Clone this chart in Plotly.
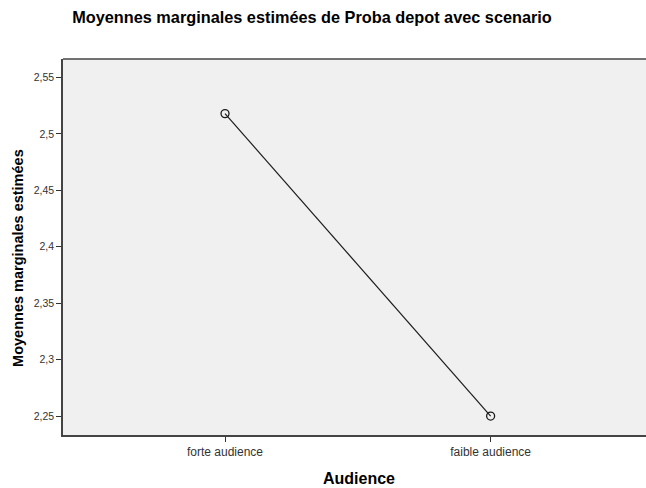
import plotly.graph_objects as go

# Estimated marginal means of "Proba depot" by audience level
audience = ["forte audience", "faible audience"]
means = [2.518, 2.250]

y_ticks = [2.25, 2.30, 2.35, 2.40, 2.45, 2.50, 2.55]

fig = go.Figure()
fig.add_trace(go.Scatter(
    x=audience,
    y=means,
    mode="lines+markers",
    line=dict(color="#1a1a1a", width=1.2),
    marker=dict(symbol="circle-open", size=8, color="#1a1a1a",
                line=dict(width=1.3, color="#1a1a1a")),
    showlegend=False,
))

font_family = "Liberation Sans, Arial, sans-serif"

fig.update_layout(
    width=646,
    height=488,
    margin=dict(l=63, r=0, t=59, b=53),
    paper_bgcolor="white",
    plot_bgcolor="#f0f0f0",
    separators=", ",
    font=dict(family=font_family, color="#222222"),
    title=dict(
        text="<b>Moyennes marginales estimées de Proba depot avec scenario</b>",
        x=0.483, xanchor="center", y=0.965, yanchor="middle",
        font=dict(size=16.3, family=font_family, color="black"),
    ),
    xaxis=dict(
        type="category",
        range=[-0.61, 1.585],
        showgrid=False,
        zeroline=False,
        showline=True,
        linecolor="#444444",
        linewidth=1.5,
        mirror=False,
        ticks="outside",
        ticklen=5,
        tickcolor="#333333",
        tickfont=dict(size=12, color="#333333"),
    ),
    yaxis=dict(
        range=[2.2332, 2.5664],
        tickvals=y_ticks,
        showgrid=False,
        zeroline=False,
        showline=True,
        linecolor="#444444",
        linewidth=1.5,
        mirror=False,
        ticks="outside",
        ticklen=5,
        tickcolor="#333333",
        tickfont=dict(size=10.5, color="#333333"),
    ),
    shapes=[dict(
        type="line", xref="paper", yref="paper",
        x0=0, x1=1, y0=1, y1=1,
        line=dict(color="#444444", width=1.5),
    )],
    annotations=[
        dict(
            text="<b>Moyennes marginales estimées</b>",
            textangle=-90,
            xref="paper", yref="paper",
            x=-0.0772, y=0.471,
            xanchor="center", yanchor="middle",
            showarrow=False,
            font=dict(size=14.5, color="black", family=font_family),
        ),
        dict(
            text="<b>Audience</b>",
            xref="paper", yref="paper",
            x=0.507, y=-0.117,
            xanchor="center", yanchor="middle",
            showarrow=False,
            font=dict(size=16, color="black", family=font_family),
        ),
    ],
)

fig.write_html("out.html")
